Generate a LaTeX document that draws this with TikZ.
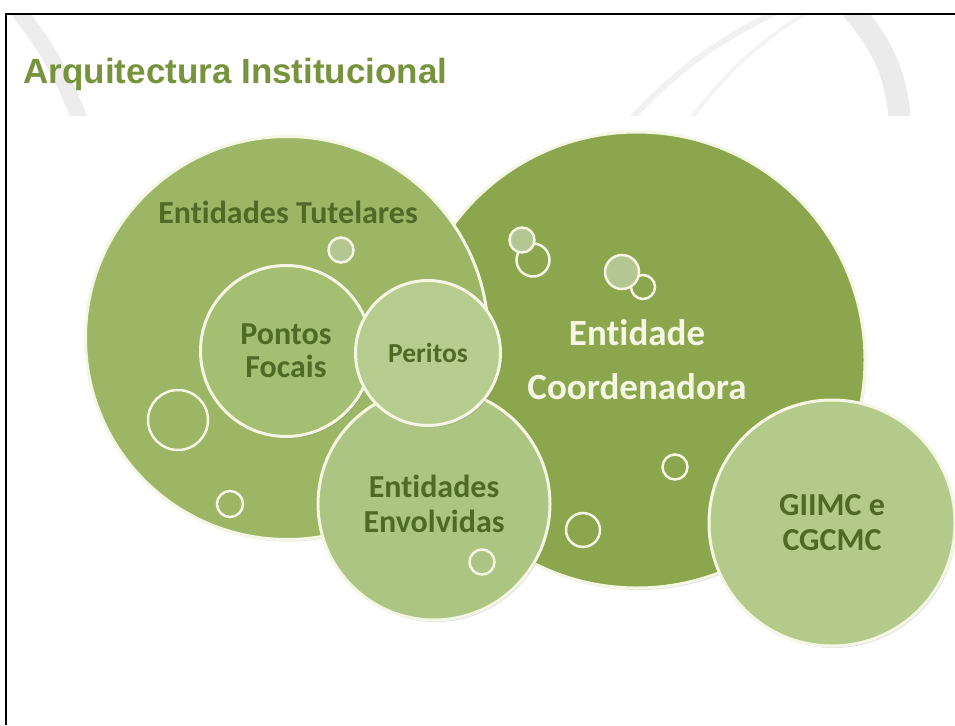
\documentclass[tikz,border=0pt]{standalone}
\usepackage{fontspec}
\newfontfamily\bubfont[Ligatures=NoCommon]{Carlito}
\newfontfamily\titfont{Liberation Sans}
\usetikzlibrary{shadows}
\usetikzlibrary{positioning}

\definecolor{coordgreen}{HTML}{8BA64D}
\definecolor{tutgreen}{HTML}{9CB666}
\definecolor{pontgreen}{HTML}{A5BF72}
\definecolor{perigreen}{HTML}{B7CD8F}
\definecolor{envgreen}{HTML}{ADC582}
\definecolor{giigreen}{HTML}{B3CA8B}
\definecolor{litegreen}{HTML}{B4C691}
\definecolor{rim}{HTML}{F3F7E3}
\definecolor{txtgreen}{HTML}{4F6A25}
\definecolor{titgreen}{HTML}{77933C}

\begin{document}
\begin{tikzpicture}[x=1pt, y=-1pt,
  bubble/.style={circle, draw=rim, line width=3pt, inner sep=0pt, align=center,
     text=txtgreen, drop shadow={opacity=0.25, shadow xshift=1.5pt, shadow yshift=-2pt}},
  dot/.style={circle, draw=rim, line width=2.5pt, inner sep=0pt,
     drop shadow={opacity=0.2, shadow xshift=1pt, shadow yshift=-1pt}},
  lbl/.style={font=\bubfont\bfseries\fontsize{32}{35}\selectfont, text=txtgreen, align=center}]

 \useasboundingbox (0,0) rectangle (955,725);

 %watermark
 \begin{scope}
  \clip (8,14) rectangle (910,115);
  \draw[gray!14, line width=16pt] (18,10) to[bend left=8] (80,120);
  \draw[gray!11, line width=6pt] (630,120) to[bend left=10] (780,10);
  \draw[gray!9, line width=4pt] (690,120) to[bend left=10] (810,10);
  \draw[gray!16, line width=22pt] (852,10) to[bend left=18] (900,120);
 \end{scope}

 %frame
 \draw[line width=2.5pt] (6,725) -- (6,14) -- (955,14);

 \node[anchor=base west, text=titgreen, font=\titfont\bfseries\fontsize{35}{38}\selectfont]
   (title) at (20,83) {Arquitectura Institucional};

 %level 1
 \node[bubble, fill=coordgreen, minimum size=456pt, text=rim,
   font=\bubfont\bfseries\fontsize{37}{54}\selectfont] (coord) at (637,360) {Entidade\\Coordenadora};

 \node[bubble, fill=tutgreen, minimum size=403pt] (tut) at (287,338) {};
 \node[lbl] (tutlbl) at (288,212) {Entidades Tutelares};

 %level 2
 \node[bubble, fill=pontgreen, minimum size=171pt, font=\bubfont\bfseries\fontsize{32}{33}\selectfont]
   (pont) at (286,351) {Pontos\\Focais};
 \node[bubble, fill=envgreen, minimum size=232pt, font=\bubfont\bfseries\fontsize{32}{35}\selectfont]
   (env) at (434,504) {Entidades\\Envolvidas};
 \node[bubble, fill=perigreen, minimum size=145pt, font=\bubfont\bfseries\fontsize{27.5}{30}\selectfont]
   (peri) at (428,353) {Peritos};
 \node[bubble, fill=giigreen, minimum size=246pt, font=\bubfont\bfseries\fontsize{32}{35}\selectfont]
   (gii) at (832,523) {GIIMC e\\CGCMC};

 %small bubbles
 \foreach \x/\y/\d/\c/\name in {341/250/25/litegreen/t1, 178/420/60/tutgreen/t2, 230/504/26/tutgreen/t3,
     482/562/25/envgreen/e1, 533/260/33/coordgreen/c1, 522/240/25/litegreen/c2,
     643/287/24/coordgreen/c3, 622/272/34/litegreen/c4, 675/467/25/coordgreen/c5,
     583/530/34/coordgreen/c6} {
   \node[dot, fill=\c, minimum size=\d pt] (\name) at (\x,\y) {};
 }

\end{tikzpicture}
\end{document}
